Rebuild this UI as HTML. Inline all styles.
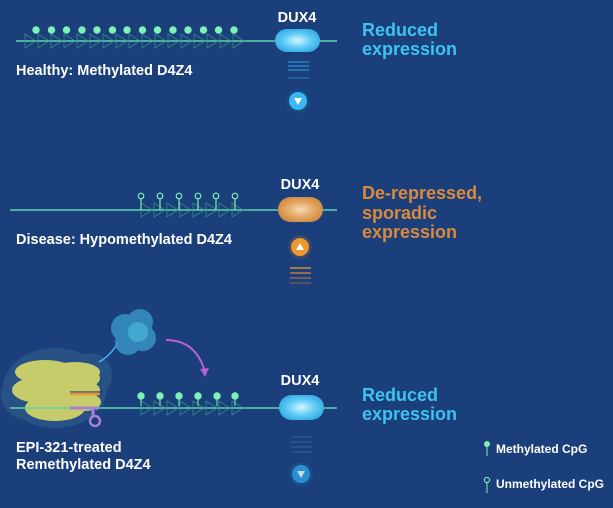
<!DOCTYPE html>
<html><head><meta charset="utf-8"><style>
html,body{margin:0;padding:0;background:#1b3f7a;}
svg{display:block;font-family:"Liberation Sans",sans-serif;font-weight:bold;}
</style></head><body>
<svg width="613" height="508" viewBox="0 0 613 508" xmlns="http://www.w3.org/2000/svg">
<defs>
<radialGradient id="bp" cx="50%" cy="50%" r="60%"><stop offset="0" stop-color="#d8f4ff"/><stop offset="0.5" stop-color="#62cdf5"/><stop offset="1" stop-color="#2aa4e0"/></radialGradient>
<radialGradient id="op" cx="50%" cy="50%" r="60%"><stop offset="0" stop-color="#f7dcb8"/><stop offset="0.5" stop-color="#e3a866"/><stop offset="1" stop-color="#c9843a"/></radialGradient>
<g id="chev"><path d="M0,-7 L11,0 L0,7 Z" fill="none" stroke="#3c9e8c" stroke-width="0.8" opacity="0.8"/></g>
</defs>
<rect width="613" height="508" fill="#1b3f7a"/>

<!-- Row 1 -->
<line x1="16" y1="41" x2="337" y2="41" stroke="#5fd3b0" stroke-width="1.5"/>
<g>
<use href="#chev" x="25" y="41"/><use href="#chev" x="38" y="41"/><use href="#chev" x="51" y="41"/><use href="#chev" x="64" y="41"/><use href="#chev" x="77" y="41"/><use href="#chev" x="90" y="41"/><use href="#chev" x="103" y="41"/><use href="#chev" x="116" y="41"/><use href="#chev" x="129" y="41"/><use href="#chev" x="142" y="41"/><use href="#chev" x="155" y="41"/><use href="#chev" x="168" y="41"/><use href="#chev" x="181" y="41"/><use href="#chev" x="194" y="41"/><use href="#chev" x="207" y="41"/><use href="#chev" x="220" y="41"/><use href="#chev" x="233" y="41"/>
</g>
<g fill="#7ff0b8" stroke="#7ff0b8" stroke-width="1">
<circle cx="36" cy="30" r="3.2"/><circle cx="51.5" cy="30" r="3.2"/><circle cx="66.5" cy="30" r="3.2"/><circle cx="82" cy="30" r="3.2"/><circle cx="97" cy="30" r="3.2"/><circle cx="112.5" cy="30" r="3.2"/><circle cx="127" cy="30" r="3.2"/><circle cx="142.5" cy="30" r="3.2"/><circle cx="157.5" cy="30" r="3.2"/><circle cx="173" cy="30" r="3.2"/><circle cx="188" cy="30" r="3.2"/><circle cx="203.5" cy="30" r="3.2"/><circle cx="218.5" cy="30" r="3.2"/><circle cx="234" cy="30" r="3.2"/>
</g>
<rect x="275" y="29" width="45" height="23" rx="11.5" fill="url(#bp)"/>
<text x="297" y="22" fill="#fff" font-size="14.5" text-anchor="middle">DUX4</text>
<g stroke="#2a8fd0" stroke-width="1.3"><line x1="288" y1="62" x2="309" y2="62"/><line x1="288" y1="66" x2="309" y2="66"/><line x1="288" y1="70" x2="309" y2="70"/><line x1="288" y1="78" x2="309" y2="78" stroke="#2272b8"/></g>
<circle cx="298" cy="101" r="12" fill="#174a86"/><circle cx="298" cy="101" r="9" fill="#3ab8ef"/>
<path d="M294,98 L302,98 L298,105 Z" fill="#fff"/>
<text x="16" y="75" fill="#fff" font-size="14.5">Healthy: Methylated D4Z4</text>
<text x="362" y="36" fill="#3ec3f0" font-size="18">Reduced</text>
<text x="362" y="55" fill="#3ec3f0" font-size="18">expression</text>

<!-- Row 2 -->
<line x1="10" y1="210" x2="337" y2="210" stroke="#5fd3b0" stroke-width="1.5"/>
<g transform="translate(0,169)">
<use href="#chev" x="141" y="41"/><use href="#chev" x="154" y="41"/><use href="#chev" x="167" y="41"/><use href="#chev" x="180" y="41"/><use href="#chev" x="193" y="41"/><use href="#chev" x="206" y="41"/><use href="#chev" x="219" y="41"/><use href="#chev" x="232" y="41"/>
</g>
<g fill="none" stroke="#7ff0b8" stroke-width="1.2">
<line x1="141" y1="199" x2="141" y2="210"/><circle cx="141" cy="196" r="2.8"/>
<line x1="160" y1="199" x2="160" y2="210"/><circle cx="160" cy="196" r="2.8"/>
<line x1="179" y1="199" x2="179" y2="210"/><circle cx="179" cy="196" r="2.8"/>
<line x1="198" y1="199" x2="198" y2="210"/><circle cx="198" cy="196" r="2.8"/>
<line x1="216" y1="199" x2="216" y2="210"/><circle cx="216" cy="196" r="2.8"/>
<line x1="235" y1="199" x2="235" y2="210"/><circle cx="235" cy="196" r="2.8"/>
</g>
<rect x="278" y="197" width="45" height="25" rx="12.5" fill="url(#op)"/>
<text x="300" y="189" fill="#fff" font-size="14.5" text-anchor="middle">DUX4</text>
<circle cx="300" cy="247" r="12" fill="#3a4a6a"/><circle cx="300" cy="247" r="9" fill="#f0962e"/>
<path d="M296,250 L304,250 L300,243 Z" fill="#fff"/>
<g stroke-width="1.5"><line x1="290" y1="268" x2="311" y2="268" stroke="#d98a3c"/><line x1="290" y1="273" x2="311" y2="273" stroke="#c07a3a"/><line x1="290" y1="278" x2="311" y2="278" stroke="#8a6a50"/><line x1="290" y1="283" x2="311" y2="283" stroke="#6a5a58"/></g>
<text x="16" y="244" fill="#fff" font-size="14.5">Disease: Hypomethylated D4Z4</text>
<text x="362" y="199" fill="#d98a3c" font-size="18">De-repressed,</text>
<text x="362" y="219" fill="#d98a3c" font-size="18">sporadic</text>
<text x="362" y="238" fill="#d98a3c" font-size="18">expression</text>

<!-- Row 3 -->
<g fill="#2b5588" opacity="0.85">
<ellipse cx="55" cy="388" rx="52" ry="40"/><circle cx="25" cy="395" r="24"/><circle cx="90" cy="375" r="22"/>
</g>
<g fill="#c6cc6a">
<ellipse cx="45" cy="372" rx="30" ry="12"/><ellipse cx="75" cy="372" rx="25" ry="10"/><ellipse cx="40" cy="390" rx="28" ry="13"/><ellipse cx="70" cy="390" rx="30" ry="12"/><ellipse cx="55" cy="408" rx="30" ry="13"/><ellipse cx="85" cy="402" rx="16" ry="9"/><ellipse cx="90" cy="378" rx="10" ry="8"/>
</g>
<rect x="70" y="391" width="32" height="4" fill="#1b3f7a" opacity="0.6"/>
<line x1="70" y1="394" x2="100" y2="394" stroke="#f09030" stroke-width="2.5"/>
<line x1="10" y1="408" x2="337" y2="408" stroke="#5fd3b0" stroke-width="1.5"/>
<line x1="70" y1="408" x2="98" y2="408" stroke="#a880d8" stroke-width="3"/>
<path d="M93,408 L93,417" stroke="#a880d8" stroke-width="3"/>
<circle cx="95" cy="421" r="5" fill="none" stroke="#a880d8" stroke-width="2.5"/>
<path d="M99,362 Q110,356 118,343" fill="none" stroke="#3ab8ef" stroke-width="1.5"/>
<g fill="#3a9ed0" opacity="0.75">
<circle cx="125" cy="328" r="14"/><circle cx="140" cy="322" r="13"/><circle cx="143" cy="338" r="13"/><circle cx="128" cy="342" r="13"/>
</g>
<circle cx="138" cy="332" r="10" fill="#4cc0e0" opacity="0.6"/>
<path d="M166,340 Q196,340 205,372" fill="none" stroke="#b860d8" stroke-width="2"/>
<path d="M200,369 L205,377 L209,368 Z" fill="#b860d8"/>
<g transform="translate(0,367)">
<use href="#chev" x="141" y="41"/><use href="#chev" x="154" y="41"/><use href="#chev" x="167" y="41"/><use href="#chev" x="180" y="41"/><use href="#chev" x="193" y="41"/><use href="#chev" x="206" y="41"/><use href="#chev" x="219" y="41"/><use href="#chev" x="232" y="41"/>
</g>
<g fill="#7ff0b8" stroke="#7ff0b8" stroke-width="1">
<line x1="141" y1="396" x2="141" y2="406"/><circle cx="141" cy="396" r="3.2"/>
<line x1="160" y1="396" x2="160" y2="406"/><circle cx="160" cy="396" r="3.2"/>
<line x1="179" y1="396" x2="179" y2="406"/><circle cx="179" cy="396" r="3.2"/>
<line x1="198" y1="396" x2="198" y2="406"/><circle cx="198" cy="396" r="3.2"/>
<line x1="217" y1="396" x2="217" y2="406"/><circle cx="217" cy="396" r="3.2"/>
<line x1="235" y1="396" x2="235" y2="406"/><circle cx="235" cy="396" r="3.2"/>
</g>
<rect x="279" y="395" width="45" height="25" rx="12.5" fill="url(#bp)"/>
<text x="300" y="385" fill="#fff" font-size="14.5" text-anchor="middle">DUX4</text>
<g stroke="#2a5a96" stroke-width="1.3"><line x1="291" y1="437" x2="312" y2="437"/><line x1="291" y1="442" x2="312" y2="442"/><line x1="291" y1="447" x2="312" y2="447"/><line x1="291" y1="452" x2="312" y2="452"/></g>
<circle cx="301" cy="474" r="12" fill="#1a4d88"/><circle cx="301" cy="474" r="9" fill="#2a8ed0"/>
<path d="M297,471 L305,471 L301,478 Z" fill="#c8d8ea"/>
<text x="16" y="452" fill="#fff" font-size="14.5">EPI-321-treated</text>
<text x="16" y="469" fill="#fff" font-size="14.5">Remethylated D4Z4</text>
<text x="362" y="401" fill="#3ec3f0" font-size="18">Reduced</text>
<text x="362" y="420" fill="#3ec3f0" font-size="18">expression</text>

<!-- Legend -->
<line x1="487" y1="445" x2="487" y2="456" stroke="#7ff0b8" stroke-width="1"/><circle cx="487" cy="444" r="3" fill="#7ff0b8"/>
<text x="496" y="453" fill="#fff" font-size="12">Methylated CpG</text>
<line x1="487" y1="483" x2="487" y2="493" stroke="#7ff0b8" stroke-width="1"/><circle cx="487" cy="480" r="2.6" fill="none" stroke="#7ff0b8" stroke-width="1.1"/>
<text x="496" y="488" fill="#fff" font-size="12">Unmethylated CpG</text>
</svg>
</body></html>
